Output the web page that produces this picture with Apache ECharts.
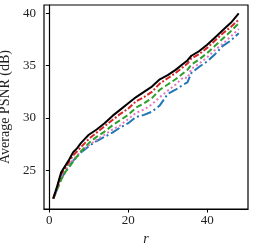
<!DOCTYPE html>
<html><head><meta charset="utf-8">
<script src="https://cdn.jsdelivr.net/npm/echarts@6/dist/echarts.min.js"></script>
<style>html,body{margin:0;padding:0;background:#fff}#c{width:254px;height:249px}</style>
</head><body><div id="c"></div>
<script>
const r = [1,2,3,4,5,6,7,8,9,10,12,14,16,18,20,22,24,26,28,30,32,34,35,36,38,40,42,44,46,48];
const black = [22.3,23.5,24.8,25.4,26.0,26.7,27.1,27.6,28.0,28.4,28.9,29.5,30.2,30.8,31.4,32.0,32.5,33.0,33.7,34.1,34.6,35.2,35.5,35.95,36.4,37.0,37.7,38.4,39.1,40.0];
const red = [22.3,23.4,24.6,25.2,25.8,26.4,26.8,27.2,27.6,28.0,28.6,29.2,29.8,30.4,30.9,31.6,32.0,32.5,33.3,33.8,34.3,34.9,35.2,35.7,36.1,36.7,37.4,38.1,38.7,39.4];
const green = [22.3,23.2,24.1,24.8,25.3,25.8,26.3,26.8,27.2,27.6,28.2,28.7,29.3,29.8,30.3,31.0,31.4,31.9,32.7,33.2,33.7,34.3,34.6,35.1,35.6,36.2,36.9,37.6,38.3,39.05];
const pink = [22.3,23.2,24.2,24.9,25.5,26.0,26.4,26.8,27.1,27.4,27.9,28.4,28.9,29.3,29.9,30.5,30.8,31.3,32.0,32.6,33.2,33.9,33.8,34.7,35.2,35.8,36.5,37.1,37.8,38.5];
const blue = [22.3,23.2,24.2,24.8,25.4,25.9,26.3,26.7,27.0,27.3,27.8,28.2,28.6,29.1,29.5,30.1,30.3,30.6,31.2,32.3,32.7,33.2,33.4,34.3,34.9,35.4,36.1,36.9,37.4,38.1];
const xTicks = [0,20,40];
const yTicks = [25,30,35,40];

const font = 'Liberation Serif';
function pairs(ys){ return r.map((x,i)=>[x,ys[i]]); }
function s(name, ys, color, type, z){
  return {name, type:'line', data:pairs(ys), showSymbol:false, symbol:'none', z,
    lineStyle:{color, width:2, type}, animation:false};
}
const chart = echarts.init(document.getElementById('c'), null, {renderer:'canvas'});
chart.setOption({
  animation:false,
  grid:{left:44, top:5, width:204, height:204, show:true, borderColor:'#000', borderWidth:1.2,
    containLabel:false, outerBoundsMode:'none'},
  xAxis:{type:'value', min:-1.35, max:50.35,
    name:'r', nameLocation:'middle', nameGap:21,
    nameTextStyle:{fontFamily:font, fontSize:14, fontStyle:'italic', color:'#222'},
    axisLine:{show:true, lineStyle:{color:'#000', width:1.2}},
    axisTick:{show:true, inside:false, length:3.5, lineStyle:{color:'#000', width:1}, customValues:xTicks},
    axisLabel:{fontFamily:font, fontSize:13, color:'#222', margin:5, customValues:xTicks},
    splitLine:{show:false}},
  yAxis:{type:'value', min:21.3, max:40.8,
    name:'Average PSNR (dB)', nameLocation:'middle', nameGap:23,
    nameTextStyle:{fontFamily:font, fontSize:14, color:'#222'},
    axisLine:{show:true, lineStyle:{color:'#000', width:1.2}},
    axisTick:{show:true, inside:false, length:3.5, lineStyle:{color:'#000', width:1}, customValues:yTicks},
    axisLabel:{fontFamily:font, fontSize:13, color:'#222', margin:8, customValues:yTicks},
    splitLine:{show:false}},
  series:[
    s('blue', blue, '#1f77b4', [10,3,2,3], 1),
    s('pink', pink, '#e377c2', [2,2.6], 2),
    s('green', green, '#2ca02c', [6,3], 3),
    s('red', red, '#d62728', [6,2,2,2], 4),
    s('black', black, '#000000', 'solid', 5)
  ]
});
</script></body></html>
